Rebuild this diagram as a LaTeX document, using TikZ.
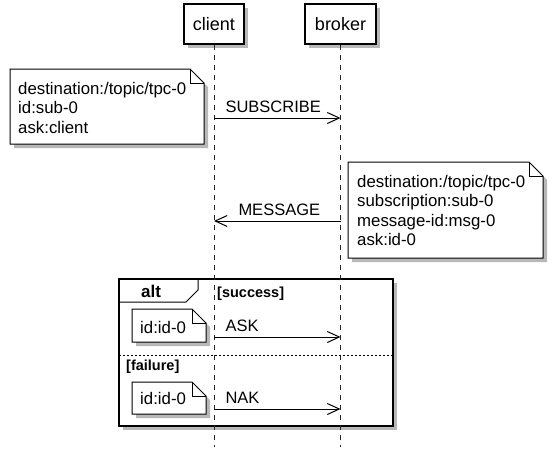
\documentclass[tikz,border=0pt]{standalone}
\usepackage{fontspec}
\setmainfont{Liberation Sans}
\usepackage{tikz}
\usetikzlibrary{arrows.meta,shadows}
\pgfdeclarelayer{background}
\pgfsetlayers{background,main}

% note outline with folded corner: left, top, right, bottom
\newcommand\dogear[4]{%
  \begin{pgfonlayer}{background}
    \draw[notebox] (#1,#2) -- (#3-14,#2) -- (#3,#2+14) -- (#3,#4) -- (#1,#4) -- cycle;
    \draw[line width=1pt] (#3-14,#2) |- (#3,#2+14);
  \end{pgfonlayer}}

\begin{document}
\begin{tikzpicture}[x=1pt,y=-1pt,
    every node/.style={font=\fontsize{16.5}{19.5}\selectfont},
    shade/.style={drop shadow={shadow xshift=4pt,shadow yshift=-4pt,opacity=1,fill=black!28}},
    actor/.style={draw,line width=1.5pt,fill=white,minimum height=40pt,inner xsep=0pt,font=\fontsize{18}{22}\selectfont,shade},
    note/.style={align=left,inner sep=0pt,anchor=base west,font=\fontsize{16.8}{19.5}\selectfont},
    notebox/.style={line width=1pt,fill=white,shade},
    life/.style={line width=1pt,black!85,dash pattern=on 5pt off 5pt},
    msg/.style={line width=1pt,-{Straight Barb[length=12pt,width=11pt]}},
    lbl/.style={inner sep=0pt},
    frame/.style={line width=2.5pt,fill=white,shade},
    altlbl/.style={inner sep=0pt,font=\fontsize{17}{20}\selectfont\bfseries},
    guard/.style={inner sep=0pt,font=\fontsize{14.5}{17}\selectfont\bfseries}]
  \useasboundingbox (0,0) rectangle (557,461);

  % participants and lifelines
  \node[actor,minimum width=60pt] (client) at (214,24) {client};
  \node[actor,minimum width=71pt] (broker) at (340.5,24) {broker};
  \coordinate (clientEnd) at (214,447);
  \coordinate (brokerEnd) at (340.5,447);
  \draw[life] (client.south) -- (clientEnd);
  \draw[life] (broker.south) -- (brokerEnd);

  % subscribe
  \dogear{10}{69}{204}{144}
  \node[note,text width=180pt] (subNote) at (18,94) {destination:/topic/tpc-0\\id:sub-0\\ask:client};
  \coordinate (subC) at (214,118);
  \coordinate (subB) at (340.5,118);
  \draw[msg] (subC) -- (subB) node[lbl,at start,anchor=base west,xshift=11pt,yshift=5.5pt] (subLbl) {SUBSCRIBE};

  % message
  \dogear{348}{162}{543}{258}
  \node[note,text width=180pt] (msgNote) at (357,187) {destination:/topic/tpc-0\\subscription:sub-0\\message-id:msg-0\\ask:id-0};
  \coordinate (msgB) at (340.5,221);
  \coordinate (msgC) at (214,221);
  \draw[msg] (msgB) -- (msgC) node[lbl,at end,anchor=base west,xshift=24pt,yshift=5.5pt] (msgLbl) {MESSAGE};

  % alt frame
  \begin{pgfonlayer}{background}
    \draw[frame] (119,279) rectangle (393,426);
  \end{pgfonlayer}
  \draw[line width=1pt] (119,302) -- (186,302) -- (198,290) -- (198,279);
  \node[altlbl,anchor=base] (alt) at (151,297) {alt};
  \node[guard,anchor=base west] (success) at (217,297) {[success]};
  \draw[line width=1pt,dash pattern=on 2pt off 2pt] (119,355) -- (393,355);
  \node[guard,anchor=base west] (failure) at (126,370) {[failure]};

  % ask / nak
  \dogear{132}{309}{206}{342}
  \node[note] (askNote) at (140,333) {id:id-0};
  \coordinate (askC) at (214,337);
  \coordinate (askB) at (340.5,337);
  \draw[msg] (askC) -- (askB) node[lbl,at start,anchor=base west,xshift=11pt,yshift=6pt] (askLbl) {ASK};

  \dogear{132}{382}{206}{414}
  \node[note] (nakNote) at (140,404) {id:id-0};
  \coordinate (nakC) at (214,409);
  \coordinate (nakB) at (340.5,409);
  \draw[msg] (nakC) -- (nakB) node[lbl,at start,anchor=base west,xshift=11pt,yshift=5.5pt] (nakLbl) {NAK};
\end{tikzpicture}
\end{document}
